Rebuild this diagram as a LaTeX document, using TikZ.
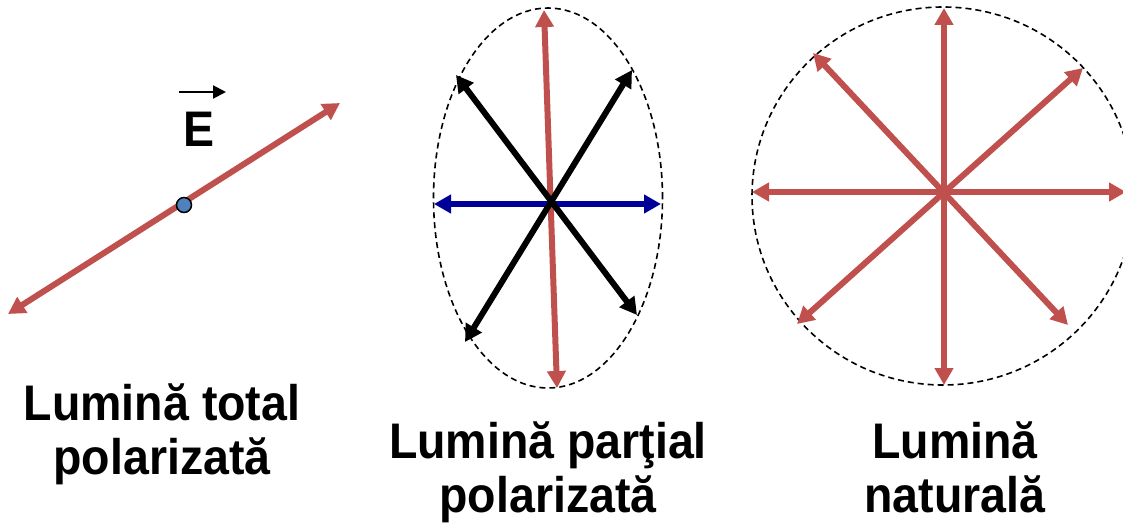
\documentclass[tikz,border=0pt]{standalone}
\usepackage{fontspec}
\setmainfont{Liberation Sans}
\newfontfamily\lblfont[FakeStretch=0.93]{Liberation Sans}
\usetikzlibrary{arrows.meta,shapes.geometric}
\definecolor{pred}{HTML}{C0504D}
\definecolor{pblue}{HTML}{000099}
\definecolor{pdot}{HTML}{4F81BD}
\tikzset{
  vec/.style={line width=6pt,{Triangle[length=17pt,width=18pt]}-{Triangle[length=17pt,width=18pt]}},
  redvec/.style={vec,draw=pred,fill=pred},
  blackvec/.style={vec,draw=black,fill=black},
  bluevec/.style={vec,draw=pblue,fill=pblue},
  guide/.style={draw=black,line width=1.6pt,dash pattern=on 6pt off 4pt},
  lbl/.style={font=\lblfont\fontsize{50}{54}\selectfont\bfseries,align=center,anchor=base,inner sep=0pt},
  edot/.style={circle,draw=black,fill=pdot,line width=1.5pt,minimum size=15pt,inner sep=0pt}
}
\begin{document}
\begin{tikzpicture}[x=1pt,y=-1pt]
\useasboundingbox (0,0) rectangle (1123,524);
% panel 1
\coordinate (a1) at (8,314);
\coordinate (a2) at (340,103);
\draw[redvec] (a1) -- (a2);
\node[edot] (dot) at (184,205) {};
\node[lbl] (E) at (199,146) {E};
\coordinate (e1) at (179,92);
\coordinate (e2) at (226,92);
\draw[line width=2pt,-{Triangle[length=13pt,width=13pt]}] (e1) -- (e2);
\node[lbl] (t1) at (162,474) {Lumină total\\polarizată};
% panel 2
\node[guide,ellipse,minimum width=229pt,minimum height=380pt,inner sep=0pt] (el) at (548,198) {};
\coordinate (r1) at (544,10);
\coordinate (r2) at (557,388);
\coordinate (b1) at (434,204);
\coordinate (b2) at (661,204);
\coordinate (k1) at (456,75);
\coordinate (k2) at (637,315);
\coordinate (k3) at (632,70);
\coordinate (k4) at (465,342);
\draw[redvec] (r1) -- (r2);
\draw[bluevec] (b1) -- (b2);
\draw[blackvec] (k1) -- (k2);
\draw[blackvec] (k3) -- (k4);
\node[lbl] (t2) at (548,512) {Lumină parţial\\polarizată};
% panel 3
\node[guide,ellipse,minimum width=382pt,minimum height=378pt,inner sep=0pt] (ci) at (943,196) {};
\coordinate (n1) at (944,8);
\coordinate (n2) at (944,385);
\coordinate (n3) at (752,192);
\coordinate (n4) at (1126,192);
\coordinate (n5) at (813,53);
\coordinate (n6) at (1068,325);
\coordinate (n7) at (1083,68);
\coordinate (n8) at (797,324);
\draw[redvec] (n1) -- (n2);
\draw[redvec] (n3) -- (n4);
\draw[redvec] (n5) -- (n6);
\draw[redvec] (n7) -- (n8);
\node[lbl] (t3) at (955,512) {Lumină\\naturală};
\end{tikzpicture}
\end{document}
